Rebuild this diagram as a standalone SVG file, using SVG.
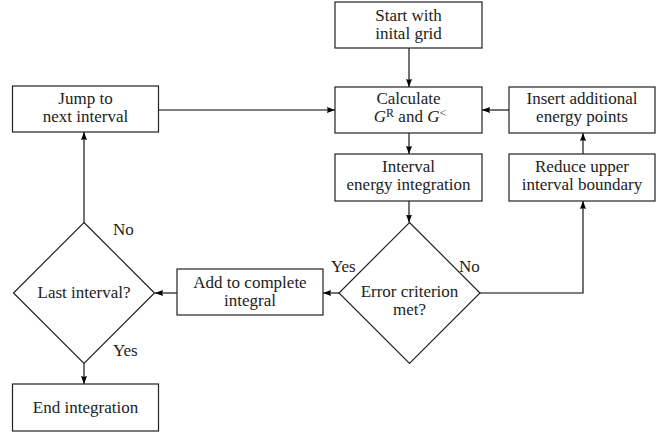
<svg xmlns="http://www.w3.org/2000/svg" width="665" height="433" viewBox="0 0 665 433">
<defs>
<marker id="arr" markerUnits="userSpaceOnUse" markerWidth="9" markerHeight="7" refX="8" refY="3.5" orient="auto">
<path d="M0,0.5 L8,3.5 L0,6.5 Q1.5,3.5 0,0.5 z" fill="#000"/>
</marker>
<style>
.b{fill:#fff;stroke:#222;stroke-width:1.2}
.t{font-family:'Liberation Serif','Liberation Sans',sans-serif;font-size:17px;fill:#222;text-anchor:middle}
.l{font-family:'Liberation Serif','Liberation Sans',sans-serif;font-size:17px;fill:#222;text-anchor:start}
.c{fill:none;stroke:#000;stroke-width:1.1}
</style>
</defs>
<rect width="665" height="433" fill="#fff"/>
<g id="connectors">
<path class="c" d="M409,48 V87" marker-end="url(#arr)"/>
<path class="c" d="M509,110 H482" marker-end="url(#arr)"/>
<path class="c" d="M409,133 V154" marker-end="url(#arr)"/>
<path class="c" d="M583,154 V133" marker-end="url(#arr)"/>
<path class="c" d="M409,201 V222.5" marker-end="url(#arr)"/>
<path class="c" d="M480,293 H583 V201" marker-end="url(#arr)"/>
<path class="c" d="M339,293 H323" marker-end="url(#arr)"/>
<path class="c" d="M177,293 H155" marker-end="url(#arr)"/>
<path class="c" d="M84,222.5 V132" marker-end="url(#arr)"/>
<path class="c" d="M84,363.5 V384" marker-end="url(#arr)"/>
<path class="c" d="M158.5,110 H335" marker-end="url(#arr)"/>
<text class="l" x="113" y="235">No</text>
<text class="l" x="113" y="356">Yes</text>
<text class="l" x="331" y="272">Yes</text>
<text class="l" x="459" y="272">No</text>
</g>
<g id="start">
<rect class="b" x="335" y="2" width="147" height="46"/>
<text class="t" x="408.5" y="20.5">Start with</text>
<text class="t" x="408.5" y="38.5">inital grid</text>
</g>
<g id="calculate">
<rect class="b" x="335" y="87" width="147" height="46"/>
<text class="t" x="408.5" y="103.5">Calculate</text>
<text class="t" x="410" y="121.5"><tspan font-style="italic">G</tspan><tspan font-size="12" dy="-4.5">R</tspan><tspan dy="4.5"> and </tspan><tspan font-style="italic">G</tspan><tspan font-size="12" dy="-4.5">&lt;</tspan></text>
</g>
<g id="insert">
<rect class="b" x="509" y="87" width="146" height="46"/>
<text class="t" x="582" y="103.5">Insert additional</text>
<text class="t" x="582" y="121.5">energy points</text>
</g>
<g id="interval">
<rect class="b" x="335" y="154" width="147" height="47"/>
<text class="t" x="408.5" y="171.5">Interval</text>
<text class="t" x="408.5" y="189.5">energy integration</text>
</g>
<g id="reduce">
<rect class="b" x="509" y="154" width="146" height="47"/>
<text class="t" x="582" y="171.5">Reduce upper</text>
<text class="t" x="582" y="189.5">interval boundary</text>
</g>
<g id="jump">
<rect class="b" x="12.5" y="86" width="146" height="46"/>
<text class="t" x="85.5" y="103.5">Jump to</text>
<text class="t" x="85.5" y="121.5">next interval</text>
</g>
<g id="error">
<path class="b" d="M409.5,222.5 L480,293 L409.5,363.5 L339,293 z"/>
<text class="t" x="409.5" y="296.5">Error criterion</text>
<text class="t" x="409.5" y="314.5">met?</text>
</g>
<g id="add">
<rect class="b" x="177" y="269" width="146" height="46"/>
<text class="t" x="250" y="287.5">Add to complete</text>
<text class="t" x="250" y="305.5">integral</text>
</g>
<g id="last">
<path class="b" d="M84,222.5 L154.5,293 L84,363.5 L13.5,293 z"/>
<text class="t" x="84" y="298">Last interval?</text>
</g>
<g id="end">
<rect class="b" x="12.5" y="384" width="146" height="47"/>
<text class="t" x="85.5" y="413">End integration</text>
</g>
</svg>
